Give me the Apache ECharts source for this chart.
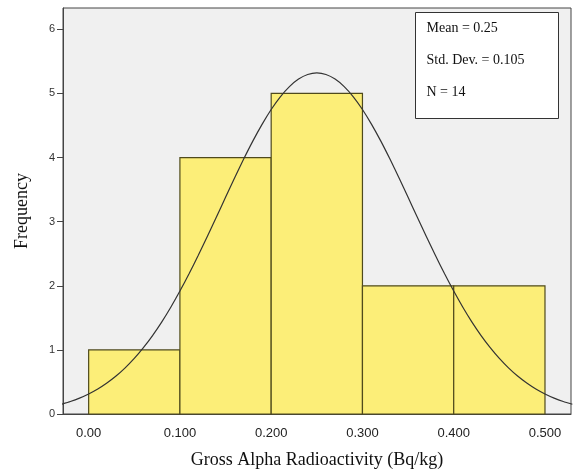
<!DOCTYPE html>
<html>
<head>
<meta charset="utf-8">
<script src="https://cdn.jsdelivr.net/npm/echarts@6/dist/echarts.min.js"></script>
<style>
html,body{margin:0;padding:0;background:#fff;}
#chart{width:573px;height:471px;}
</style>
</head>
<body>
<div id="chart"></div>
<script>
// Histogram bins
const binStart = [0.0, 0.1, 0.2, 0.3, 0.4];
const binEnd   = [0.1, 0.2, 0.3, 0.4, 0.5];
const counts   = [1, 4, 5, 2, 2];

// Fitted normal curve (x, frequency)
const curveX = [-0.03,-0.02,-0.01,0.00,0.01,0.02,0.03,0.04,0.05,0.06,0.07,0.08,0.09,0.10,
                0.11,0.12,0.13,0.14,0.15,0.16,0.17,0.18,0.19,0.20,0.21,0.22,0.23,0.24,0.25,
                0.26,0.27,0.28,0.29,0.30,0.31,0.32,0.33,0.34,0.35,0.36,0.37,0.38,0.39,0.40,
                0.41,0.42,0.43,0.44,0.45,0.46,0.47,0.48,0.49,0.50,0.51,0.52,0.53];
const curveY = [0.152,0.195,0.248,0.313,0.390,0.483,0.592,0.720,0.867,1.035,1.224,1.434,1.666,1.918,
                2.187,2.472,2.769,3.073,3.380,3.685,3.980,4.260,4.518,4.750,4.948,5.107,5.224,5.296,5.32,
                5.296,5.224,5.107,4.948,4.750,4.518,4.260,3.980,3.685,3.380,3.073,2.769,2.472,2.187,1.918,
                1.666,1.434,1.224,1.035,0.867,0.720,0.592,0.483,0.390,0.313,0.248,0.195,0.152];

const xTicks = [0, 0.1, 0.2, 0.3, 0.4, 0.5];
const yTicks = [0, 1, 2, 3, 4, 5, 6];
const statsLines = ['Mean = 0.25', 'Std. Dev. = 0.105', 'N = 14'];

const chart = echarts.init(document.getElementById('chart'));

const barData = binStart.map((s, i) => [s, binEnd[i], counts[i]]);
const curveData = curveX.map((x, i) => [x, curveY[i]]);

chart.setOption({
  animation: false,
  backgroundColor: '#ffffff',
  grid: {
    left: 63, top: 8, width: 508, height: 406,
    outerBoundsMode: 'none',
    containLabel: false,
    show: true, backgroundColor: '#f0f0f0', borderColor: '#444', borderWidth: 1
  },
  xAxis: {
    type: 'value',
    min: -0.0281, max: 0.5285,
    name: 'Gross Alpha Radioactivity (Bq/kg)',
    nameLocation: 'middle',
    nameGap: 37,
    nameTextStyle: { fontFamily: 'Liberation Serif', fontSize: 18, color: '#111' },
    axisLine: { show: true, onZero: false, lineStyle: { color: '#444' } },
    axisTick: { show: false, customValues: xTicks },
    splitLine: { show: false },
    axisLabel: {
      customValues: xTicks,
      margin: 13,
      fontFamily: 'Liberation Sans', fontSize: 13, color: '#222',
      formatter: v => (Math.abs(v) < 1e-9 ? '0.00' : v.toFixed(3))
    }
  },
  yAxis: {
    type: 'value',
    min: 0, max: 6.333,
    name: 'Frequency',
    nameLocation: 'middle',
    nameGap: 32,
    nameTextStyle: { fontFamily: 'Liberation Serif', fontSize: 18, color: '#111' },
    axisLine: { show: true, onZero: false, lineStyle: { color: '#444' } },
    axisTick: { show: true, inside: false, length: 6, customValues: yTicks, lineStyle: { color: '#444' } },
    splitLine: { show: false },
    axisLabel: {
      customValues: yTicks,
      margin: 8,
      fontFamily: 'Liberation Sans', fontSize: 11, color: '#333'
    }
  },
  series: [
    {
      type: 'custom',
      data: barData,
      encode: { x: [0, 1], y: 2 },
      renderItem: function (params, api) {
        const p0 = api.coord([api.value(0), 0]);
        const p1 = api.coord([api.value(1), api.value(2)]);
        return {
          type: 'rect',
          shape: { x: p0[0], y: p1[1], width: p1[0] - p0[0], height: p0[1] - p1[1] },
          style: { fill: '#fcee78', stroke: '#4f4a1c', lineWidth: 1.2 }
        };
      },
      z: 2
    },
    {
      type: 'line',
      data: curveData,
      smooth: 0.2,
      showSymbol: false,
      lineStyle: { color: '#333', width: 1.2 },
      z: 3
    }
  ],
  graphic: [
    {
      type: 'group',
      left: 415, top: 12,
      children: [
        { type: 'rect', shape: { x: 0, y: 0, width: 143, height: 106 },
          style: { fill: '#ffffff', stroke: '#333', lineWidth: 1 } },
        { type: 'text', x: 11, y: 16, style: { text: statsLines[0], font: '14px "Liberation Serif"', fill: '#111', verticalAlign: 'middle' } },
        { type: 'text', x: 11, y: 48, style: { text: statsLines[1], font: '14px "Liberation Serif"', fill: '#111', verticalAlign: 'middle' } },
        { type: 'text', x: 11, y: 80, style: { text: statsLines[2], font: '14px "Liberation Serif"', fill: '#111', verticalAlign: 'middle' } }
      ]
    }
  ]
});
</script>
</body>
</html>
